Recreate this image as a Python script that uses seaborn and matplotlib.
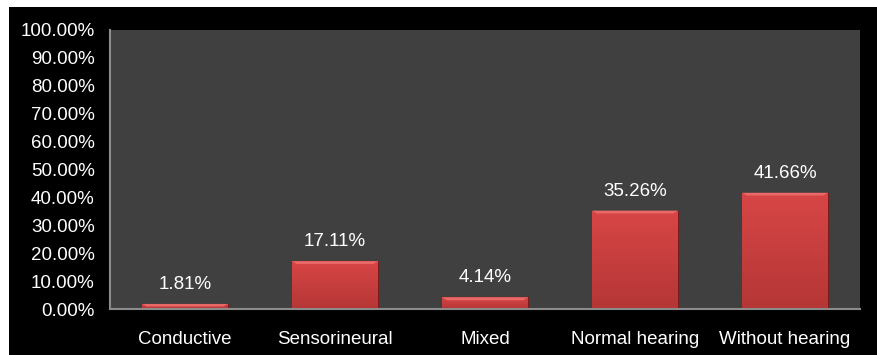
import matplotlib
matplotlib.use("Agg")
import matplotlib.pyplot as plt
import seaborn as sns
import numpy as np
import pandas as pd
from matplotlib.patches import Rectangle, Polygon
from matplotlib.colors import LinearSegmentedColormap

categories = ["Conductive", "Sensorineural", "Mixed", "Normal hearing", "Without hearing"]
values = [1.81, 17.11, 4.14, 35.26, 41.66]
yticks = [0, 10, 20, 30, 40, 50, 60, 70, 80, 90, 100]

df = pd.DataFrame({"type": categories, "pct": values})

sns.set_style("dark")
plt.rcParams["font.family"] = ["Liberation Sans", "DejaVu Sans"]

fig = plt.figure(figsize=(8.78, 3.55), dpi=100, facecolor="white")
# black frame, thin white margin left/top
fig.patches.append(Rectangle((9 / 878, 0), 1, 1 - 7 / 355, transform=fig.transFigure,
                             facecolor="black", edgecolor="none", zorder=-10))
ax = fig.add_axes([110 / 878, 1 - 309 / 355, 750 / 878, 279 / 355])
ax.set_facecolor("#404040")

sns.barplot(data=df, x="type", y="pct", color="#cc4040", width=0.57,
            saturation=1, ax=ax, edgecolor="#7a1c1c", linewidth=0.8, zorder=3)

# shading: vertical gradient + light bevel on top
grad = LinearSegmentedColormap.from_list("g", ["#b53636", "#d84646"])
for p in list(ax.patches):
    x0, w, h = p.get_x(), p.get_width(), p.get_height()
    im = ax.imshow(np.linspace(0, 1, 100).reshape(-1, 1), cmap=grad, origin="lower",
                   extent=(x0, x0 + w, 0, h), aspect="auto", zorder=3.5)
    im.set_clip_path(p)
    bh = min(1.0, h * 0.5)
    dx = 0.03
    ax.add_patch(Polygon([(x0, h), (x0 + w, h), (x0 + w - dx, h - bh), (x0 + dx, h - bh)],
                         closed=True, facecolor="#ea6868", edgecolor="none", zorder=4))
ax.set_aspect("auto")

for i, v in enumerate(values):
    ax.annotate(f"{v:.2f}%", (i, v), xytext=(0, 8), textcoords="offset points",
                ha="center", va="bottom", color="white", fontsize=13.5)

ax.set_ylim(0, 100)
ax.set_yticks(yticks)
ax.set_yticklabels([f"{t:.2f}%" for t in yticks])
ax.set_xlim(-0.5, 4.5)
ax.set_xlabel("")
ax.set_ylabel("")
ax.grid(False)
ax.tick_params(colors="white", labelsize=13.5, length=0)
ax.tick_params(axis="x", pad=16)
ax.tick_params(axis="y", pad=11)
for s in ["top", "right"]:
    ax.spines[s].set_visible(False)
for s in ["left", "bottom"]:
    ax.spines[s].set_visible(True)
    ax.spines[s].set_color("#8c8c8c")
    ax.spines[s].set_linewidth(1.5)
    ax.spines[s].set_zorder(5)

fig.savefig("out.png", dpi=100, facecolor=fig.get_facecolor())
